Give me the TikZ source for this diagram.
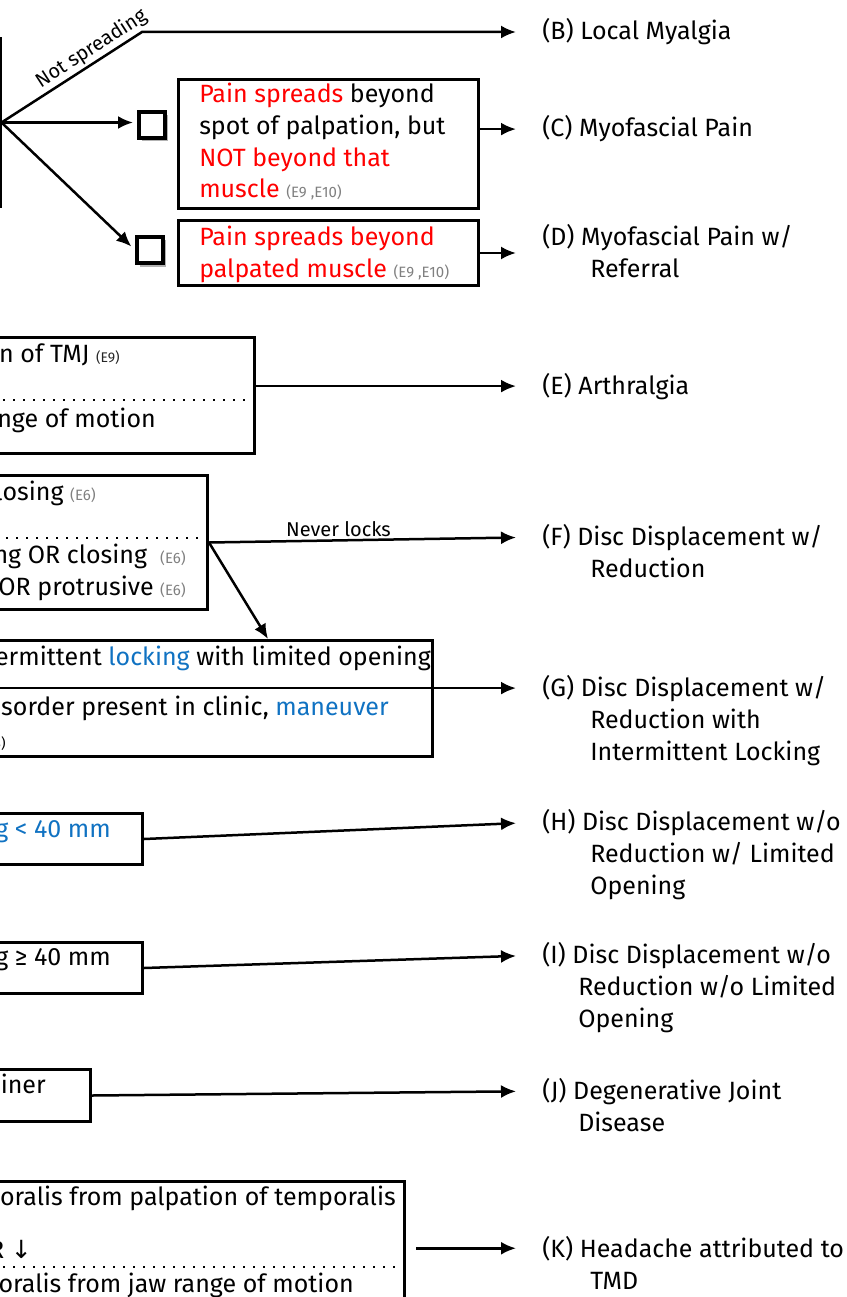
\documentclass[tikz,border=0pt]{standalone}
\usepackage{fontspec}
\setmainfont{Fira Sans}
\newfontfamily\arrowfont{DejaVu Sans}
\usetikzlibrary{arrows.meta,shadows,positioning}

\definecolor{warn}{RGB}{255,0,0}
\definecolor{hint}{RGB}{16,114,194}
\definecolor{cite}{RGB}{128,128,128}
\newcommand{\mainsize}{\fontsize{25}{32}\selectfont}
\newcommand{\refs}[1]{{\fontsize{15}{16}\selectfont\color{cite}#1}}

\begin{document}
\begin{tikzpicture}[x=1pt, y=-1pt, line width=2.5pt, >={Latex[length=15pt,width=13pt]},
    box/.style = {draw, line width=3pt, inner sep=0pt},
    tick/.style = {draw, line width=4pt, minimum size=26pt, inner sep=0pt, fill=white,
        drop shadow={shadow xshift=3pt, shadow yshift=-3.5pt, fill=black!60}},
    ltxt/.style = {inner sep=0pt, anchor=base west, font=\mainsize},
    rtxt/.style = {inner sep=0pt, anchor=base east, font=\mainsize},
    note/.style = {inner sep=2pt, font=\fontsize{20}{22}\selectfont},
    dots/.style = {line width=2.4pt, dash pattern=on 2.4pt off 7.6pt}]
    \useasboundingbox (0,0) rectangle (846,1297);
    \clip (0,0) rectangle (846,1297);

    % diagnoses
    \node[ltxt] (labB) at (541,40) {(B) Local Myalgia};
    \node[ltxt] (labC) at (541,137) {(C) Myofascial Pain};
    \node[ltxt] (labD) at (541,245) {(D) Myofascial Pain w/};
    \node[ltxt] at (589,277) {Referral};
    \node[ltxt] (labE) at (541,394) {(E) Arthralgia};
    \node[ltxt] (labF) at (541,545) {(F) Disc Displacement w/};
    \node[ltxt] at (589,577) {Reduction};
    \node[ltxt] (labG) at (541,696) {(G) Disc Displacement w/};
    \node[ltxt] at (589,728) {Reduction with};
    \node[ltxt] at (589,760) {Intermittent Locking};
    \node[ltxt] (labH) at (541,830) {(H) Disc Displacement w/o};
    \node[ltxt] at (589,862) {Reduction w/ Limited};
    \node[ltxt] at (589,894) {Opening};
    \node[ltxt] (labI) at (541,963) {(I) Disc Displacement w/o};
    \node[ltxt] at (577,995) {Reduction w/o Limited};
    \node[ltxt] at (577,1027) {Opening};
    \node[ltxt] (labJ) at (541,1099) {(J) Degenerative Joint};
    \node[ltxt] at (577,1131) {Disease};
    \node[ltxt] (labK) at (541,1257) {(K) Headache attributed to};
    \node[ltxt] at (589,1289) {TMD};

    % muscle pain
    \node[box, minimum width=60pt, minimum height=168pt, anchor=north east] (palp) at (1.5,37) {};
    \coordinate (bend) at (142,32);
    \node[tick] (sq1) at (152,125) {};
    \node[tick] (sq2) at (150,250) {};
    \node[box, minimum width=300pt, minimum height=129pt, anchor=north west] (myo) at (177,78) {};
    \node[ltxt] at (198,103) {{\color{warn}Pain spreads} beyond};
    \node[ltxt] at (198,135) {spot of palpation, but};
    \node[ltxt] at (198,167) {\color{warn}NOT beyond that};
    \node[ltxt] at (198,198) {{\color{warn}muscle} \refs{(E9 ,E10)}};
    \node[box, minimum width=300pt, minimum height=65pt, anchor=north west] (spread) at (177,219) {};
    \node[ltxt] at (198,245) {\color{warn}Pain spreads beyond};
    \node[ltxt] at (198,277) {{\color{warn}palpated muscle} \refs{(E9 ,E10)}};

    \draw[->, shorten >=25pt] (palp.east) -- node[note, sloped, above, pos=0.69] {Not spreading} (bend) -- (bend -| labB.west);
    \draw[->, shorten >=4pt] (palp.east) -- (palp.east -| sq1.west);
    \draw[->, shorten >=5pt] (palp.east) -- (sq2.west);
    \draw[->, shorten >=25pt] (myo.east |- labC.west) -- (labC.west);
    \draw[->, shorten >=25pt] (spread.east) -- (spread.east -| labD.west);

    % joint
    \node[box, minimum width=300pt, minimum height=116pt, anchor=north east] (arth) at (256,336) {};
    \node[rtxt] at (121,362) {n of TMJ {\fontsize{14}{16}\selectfont\color{black!85}(E9)}};
    \node[rtxt] at (3,391) {OR {\arrowfont ↓}};
    \draw[dots] ([yshift=-64pt]arth.north west) -- ([yshift=-64pt]arth.north east);
    \node[rtxt] at (157,427) {nge of motion};
    \draw[->, shorten >=25pt] (arth.east |- labE.west) -- (labE.west);

    \node[box, minimum width=260pt, minimum height=134pt, anchor=north east] (disc) at (209,474) {};
    \node[rtxt] at (97,500) {losing \refs{(E6)}};
    \draw[dots] ([yshift=-64pt]disc.north west) -- ([yshift=-64pt]disc.north east);
    \node[rtxt] at (187,563) {ng OR closing\ \ \refs{(E6)}};
    \node[rtxt] at (187,595) {OR protrusive \refs{(E6)}};

    \node[box, minimum width=480pt, minimum height=116pt, anchor=north east] (lock) at (434,639) {};
    \node[rtxt] at (432,665) {ermittent {\color{hint}locking} with limited opening};
    \node[rtxt] at (390,715) {sorder present in clinic, {\color{hint}maneuver}};
    \node[rtxt] at (7,748) {\fontsize{14}{16}\selectfont 3)};

    \draw[->, shorten >=25pt] (disc.east) -- node[note, above, pos=0.39] {Never locks} (labF.west);
    \draw[->] (disc.east) -- ([xshift=-166pt]lock.north east);
    \draw[->, shorten >=25pt] (lock.west |- labG.west) -- (labG.west);

    \node[box, minimum width=200pt, minimum height=51pt, anchor=north east] (shut) at (144,812) {};
    \node[rtxt] at (112,837) {\color{hint}g < 40 mm};
    \draw[->, shorten >=25pt] (shut.east) -- (labH.west);

    \node[box, minimum width=200pt, minimum height=51pt, anchor=north east] (open) at (144,941) {};
    \node[rtxt] at (112,965) {g ≥ 40 mm};
    \draw[->, shorten >=25pt] (open.east) -- (labI.west);

    \node[box, minimum width=150pt, minimum height=52pt, anchor=north east] (crep) at (92,1068) {};
    \node[rtxt] at (47,1093) {iner};
    \draw[->, shorten >=25pt] (crep.east) -- (labJ.west);

    % headache
    \node[box, minimum width=450pt, minimum height=142pt, anchor=north east] (head) at (406,1180) {};
    \node[rtxt] at (397,1205) {oralis from palpation of temporalis};
    \node[rtxt] at (33,1258) {OR {\arrowfont ↓}};
    \draw[dots] ([yshift=-87pt]head.north west) -- ([yshift=-87pt]head.north east);
    \node[rtxt] at (355,1292) {oralis from jaw range of motion};
    \draw[->, shorten >=25pt] ([xshift=10pt]head.east |- labK.west) -- (labK.west);
\end{tikzpicture}
\end{document}
